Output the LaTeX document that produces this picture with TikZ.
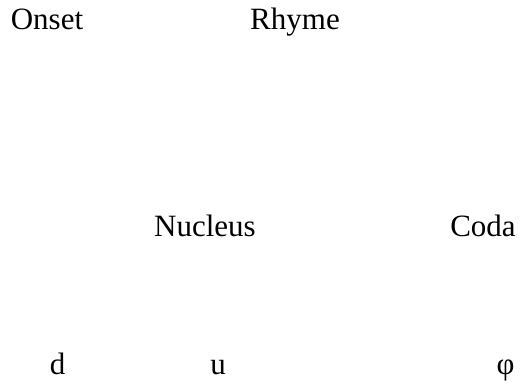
\documentclass[tikz,border=0pt]{standalone}
\usepackage{fontspec}
\setmainfont{Liberation Serif}
\newfontfamily\timesfont{Liberation Serif}
\begin{document}
\begin{tikzpicture}[x=1pt,y=1pt,
  lbl/.style={inner sep=0pt, anchor=base, font=\timesfont\fontsize{31}{36}\selectfont}]
\useasboundingbox (0,0) rectangle (523,387);
\node[lbl] (onset) at (47,357) {Onset};
\node[lbl] (rhyme) at (295,357) {Rhyme};
\node[lbl] (nucleus) at (205,150) {Nucleus};
\node[lbl] (coda) at (483,150) {Coda};
\node[lbl] (d) at (57.5,12) {d};
\node[lbl] (u) at (218,12) {u};
\node[lbl] (phi) at (505.5,12) {φ};
\end{tikzpicture}
\end{document}
